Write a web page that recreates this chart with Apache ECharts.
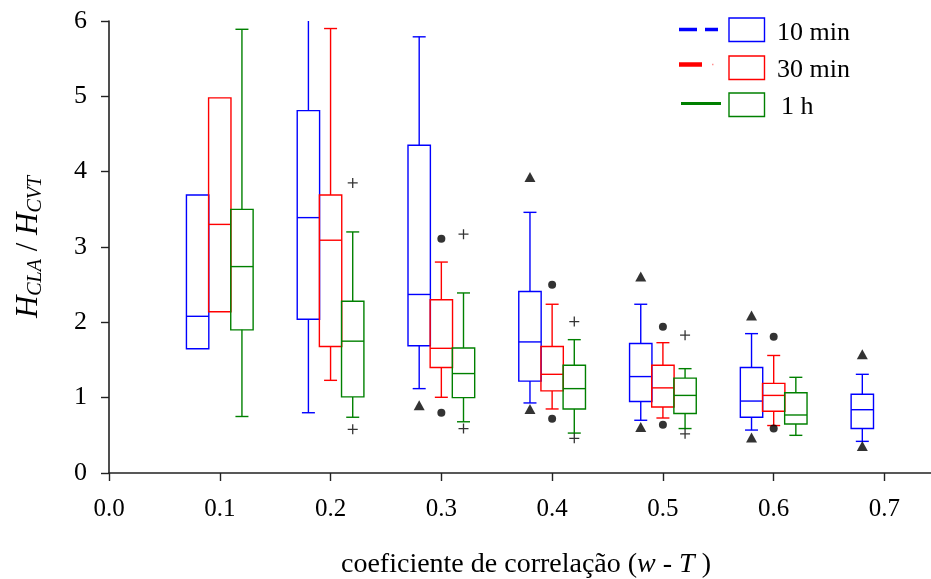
<!DOCTYPE html>
<html>
<head>
<meta charset="utf-8">
<script src="https://cdn.jsdelivr.net/npm/echarts@6/dist/echarts.min.js"></script>
<style>html,body{margin:0;padding:0;background:#fff;}#c{width:931px;height:579px;}</style>
</head>
<body>
<div id="c"></div>
<script>
// x categories (correlation coefficient)
const categories = [0.1, 0.2, 0.3, 0.4, 0.5, 0.6, 0.7];
const xTickLabels = ['0.0', '0.1', '0.2', '0.3', '0.4', '0.5', '0.6', '0.7'];
const yTickLabels = ['0', '1', '2', '3', '4', '5', '6'];

// box stats per category: [min, Q1, median, Q3, max]
const box10min = [
  [1.65, 1.65, 2.08, 3.69, 3.69],
  [0.80, 2.04, 3.39, 4.81, 6.20],
  [1.12, 1.69, 2.37, 4.35, 5.79],
  [0.93, 1.22, 1.74, 2.41, 3.46],
  [0.70, 0.95, 1.28, 1.72, 2.24],
  [0.57, 0.74, 0.955, 1.40, 1.85],
  [0.42, 0.59, 0.84, 1.045, 1.31]
];
const box30min = [
  [2.14, 2.14, 3.30, 4.98, 4.98],
  [1.23, 1.68, 3.09, 3.69, 5.90],
  [1.005, 1.40, 1.655, 2.30, 2.80],
  [0.85, 1.09, 1.31, 1.68, 2.24],
  [0.73, 0.876, 1.13, 1.43, 1.73],
  [0.63, 0.82, 1.03, 1.19, 1.56],
  null
];
const box1h = [
  [0.75, 1.90, 2.74, 3.50, 5.89],
  [0.74, 1.01, 1.75, 2.28, 3.20],
  [0.68, 1.00, 1.32, 1.66, 2.39],
  [0.53, 0.85, 1.12, 1.43, 1.77],
  [0.59, 0.79, 1.03, 1.26, 1.385],
  [0.50, 0.65, 0.77, 1.066, 1.27],
  null
];

// outliers: [category, value]
const out10min = [[0.3, 0.90], [0.4, 3.93], [0.4, 0.85], [0.5, 2.61], [0.5, 0.61], [0.6, 2.09], [0.6, 0.47], [0.7, 1.575], [0.7, 0.36]];
const out30min = [[0.3, 3.11], [0.3, 0.80], [0.4, 2.50], [0.4, 0.72], [0.5, 1.94], [0.5, 0.64], [0.6, 1.81], [0.6, 0.59]];
const out1h = [[0.2, 3.85], [0.2, 0.58], [0.3, 3.17], [0.3, 0.59], [0.4, 2.01], [0.4, 0.46], [0.5, 1.83], [0.5, 0.52]];

const seriesNames = ['10 min', '30 min', '1 h'];

// ---- styling / layout constants ----
const FONT = '"Liberation Serif", "Times New Roman", serif';
const COLORS = ['#0000ff', '#ff0000', '#008000'];
const OFFSETS = [-0.02, 0, 0.02];
const BOX_W = 0.0202;
const CAP_HALF = 6.5;
const Y_MAX = 6;

function boxData(stats) {
  const d = [];
  stats.forEach((s, i) => { if (s) d.push([categories[i]].concat(s)); });
  return d;
}

function makeRender(off, color) {
  return function (params, api) {
    const cx = api.value(0) + off;
    const vals = [1, 2, 3, 4, 5].map(k => api.value(k));
    const yTop = api.coord([cx, Y_MAX])[1];
    const p = vals.map(v => api.coord([cx, v]));
    const x = p[0][0];
    const half = api.size([BOX_W, 0])[0] / 2;
    const st = { stroke: color, lineWidth: 1.4, fill: null };
    const ch = [];
    const yMin = p[0][1], yQ1 = p[1][1], yMed = p[2][1], yQ3 = p[3][1];
    let yMax = p[4][1];
    let capTop = true;
    if (yMax < yTop) { yMax = yTop; capTop = false; }
    if (yMax < yQ3 - 0.5) {
      ch.push({ type: 'line', shape: { x1: x, y1: yQ3, x2: x, y2: yMax }, style: st });
      if (capTop) ch.push({ type: 'line', shape: { x1: x - CAP_HALF, y1: yMax, x2: x + CAP_HALF, y2: yMax }, style: st });
    }
    if (yMin > yQ1 + 0.5) {
      ch.push({ type: 'line', shape: { x1: x, y1: yQ1, x2: x, y2: yMin }, style: st });
      ch.push({ type: 'line', shape: { x1: x - CAP_HALF, y1: yMin, x2: x + CAP_HALF, y2: yMin }, style: st });
    }
    ch.push({ type: 'rect', shape: { x: x - half, y: yQ3, width: half * 2, height: yQ1 - yQ3 }, style: { stroke: color, lineWidth: 1.4, fill: 'rgba(255,255,255,0)' } });
    ch.push({ type: 'line', shape: { x1: x - half, y1: yMed, x2: x + half, y2: yMed }, style: st });
    return { type: 'group', children: ch };
  };
}

function shift(points, off) { return points.map(p => [p[0] + off, p[1]]); }

const allBoxes = [box10min, box30min, box1h];
const allOut = [out10min, out30min, out1h];
const outSymbols = ['triangle', 'circle', 'path://M0,5H10M5,0V10'];
const outSizes = [[11, 10], 8, 10];

const series = [];
allBoxes.forEach((b, i) => {
  series.push({
    type: 'custom', name: seriesNames[i],
    renderItem: makeRender(OFFSETS[i], COLORS[i]),
    data: boxData(b),
    encode: { x: 0, y: [1, 2, 3, 4, 5] },
    z: 2
  });
});
allOut.forEach((o, i) => {
  const plus = i === 2;
  series.push({
    type: 'scatter', name: seriesNames[i] + ' out',
    data: shift(o, OFFSETS[i]),
    symbol: outSymbols[i], symbolSize: outSizes[i],
    itemStyle: plus ? { color: 'rgba(0,0,0,0)', borderColor: '#000', borderWidth: 1.3 } : { color: '#000' },
    z: 3
  });
});

// legend drawn as graphics
const legendRows = [
  { y: 30, text: seriesNames[0] },
  { y: 67, text: seriesNames[1] },
  { y: 104, text: seriesNames[2] }
];
const graphics = [];
graphics.push({ type: 'line', shape: { x1: 679, y1: 29.5, x2: 697, y2: 29.5 }, style: { stroke: COLORS[0], lineWidth: 3.5 } });
graphics.push({ type: 'line', shape: { x1: 705, y1: 29.5, x2: 718, y2: 29.5 }, style: { stroke: COLORS[0], lineWidth: 3.5 } });
graphics.push({ type: 'line', shape: { x1: 679, y1: 64.5, x2: 702, y2: 64.5 }, style: { stroke: COLORS[1], lineWidth: 4.5 } });
graphics.push({ type: 'line', shape: { x1: 712, y1: 64.5, x2: 713.5, y2: 64.5 }, style: { stroke: '#ff9090', lineWidth: 1.5 } });
graphics.push({ type: 'line', shape: { x1: 681, y1: 103.5, x2: 721, y2: 103.5 }, style: { stroke: COLORS[2], lineWidth: 3 } });
const boxYs = [18, 56, 93];
legendRows.forEach((r, i) => {
  graphics.push({ type: 'rect', shape: { x: 729, y: boxYs[i], width: 35.5, height: 23.5 }, style: { stroke: COLORS[i], lineWidth: 1.4, fill: null } });
  graphics.push({ type: 'text', x: i === 2 ? 781 : 777, y: r.y + 3, style: { text: r.text, font: '26px ' + FONT, fill: '#000', verticalAlign: 'middle', align: 'left' } });
});

const chart = echarts.init(document.getElementById('c'), null, { renderer: 'canvas' });
chart.setOption({
  animation: false,
  backgroundColor: '#fff',
  grid: { left: 109, right: 0, top: 21, bottom: 106, outerBoundsMode: 'none', containLabel: false },
  xAxis: {
    type: 'value', min: 0, max: 0.742, interval: 0.1,
    name: 'coeficiente de correlação ({i|w} - {i|T} )',
    nameLocation: 'middle', nameGap: 78,
    nameTextStyle: { fontFamily: FONT, fontSize: 28, color: '#000', padding: [0, 0, 0, 12], rich: { i: { fontFamily: FONT, fontSize: 28, fontStyle: 'italic', color: '#000' } } },
    axisLine: { show: true, onZero: false, lineStyle: { color: '#222', width: 1.6 } },
    axisTick: { show: true, length: 8, lineStyle: { color: '#222', width: 1.4 }, customValues: xTickLabels.map(Number) },
    axisLabel: { fontFamily: FONT, fontSize: 25, color: '#000', margin: 24, customValues: xTickLabels.map(Number), formatter: v => xTickLabels[Math.round(v * 10)] },
    splitLine: { show: false }
  },
  yAxis: {
    type: 'value', min: 0, max: 6, interval: 1,
    name: '{h|H}{s|CLA}{n| / }{h|H}{s|CVT}',
    nameLocation: 'middle', nameRotate: 90, nameGap: 63,
    nameTextStyle: {
      fontFamily: FONT, color: '#000', padding: [0, 0, 0, 0],
      rich: {
        h: { fontFamily: FONT, fontSize: 31, fontStyle: 'italic', color: '#000', lineHeight: 34, verticalAlign: 'middle' },
        n: { fontFamily: FONT, fontSize: 31, color: '#000', lineHeight: 34, verticalAlign: 'middle' },
        s: { fontFamily: FONT, fontSize: 20, fontStyle: 'italic', color: '#000', verticalAlign: 'bottom' }
      }
    },
    axisLine: { show: true, lineStyle: { color: '#222', width: 1.6 } },
    axisTick: { show: true, length: 8, lineStyle: { color: '#222', width: 1.4 } },
    axisLabel: { fontFamily: FONT, fontSize: 26, color: '#000', margin: 22, formatter: v => yTickLabels[Math.round(v)] },
    splitLine: { show: false }
  },
  graphic: graphics,
  series: series
});
</script>
</body>
</html>
